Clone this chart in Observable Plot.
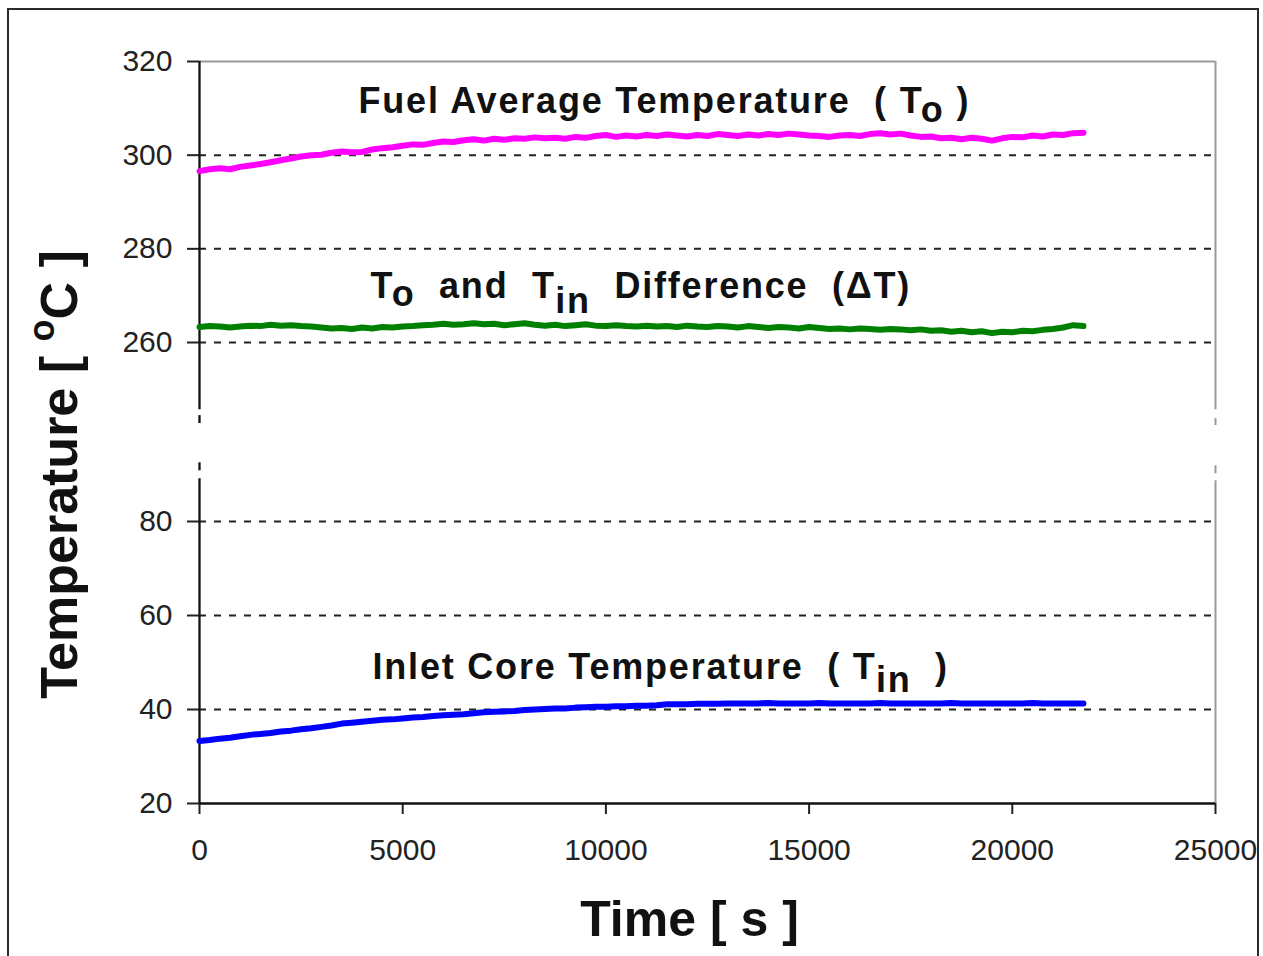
<!DOCTYPE html>
<html><head><meta charset="utf-8">
<script src="https://cdn.jsdelivr.net/npm/d3@7"></script>
<script src="https://cdn.jsdelivr.net/npm/@observablehq/plot@0.6"></script>
<style>
html,body{margin:0;padding:0;background:#fff;overflow:hidden}
#chart{position:absolute;left:0;top:0}
#frame{position:absolute;left:7px;top:8px;width:1252px;height:1100px;border:2px solid #2a2a2a;box-sizing:border-box;pointer-events:none}
svg text, svg tspan{white-space:pre}
g[aria-label$="axis tick"]{stroke-width:2px}
.tick line{stroke-width:2px}
</style></head><body>
<div id="chart"></div><div id="frame"></div>
<script>
// ---- data ----
const times = [0,250,500,750,1000,1250,1500,1750,2000,2250,2500,2750,3000,3250,3500,3750,4000,4250,4500,4750,5000,5250,5500,5750,6000,6250,6500,6750,7000,7250,7500,7750,8000,8250,8500,8750,9000,9250,9500,9750,10000,10250,10500,10750,11000,11250,11500,11750,12000,12250,12500,12750,13000,13250,13500,13750,14000,14250,14500,14750,15000,15250,15500,15750,16000,16250,16500,16750,17000,17250,17500,17750,18000,18250,18500,18750,19000,19250,19500,19750,20000,20250,20500,20750,21000,21250,21500,21750];

const fuelAvg = [296.6,297.0,297.2,297.0,297.5,297.8,298.1,298.5,298.9,299.3,299.7,300.0,300.1,300.5,300.8,300.6,300.7,301.2,301.5,301.7,302.0,302.3,302.2,302.6,302.9,302.8,303.2,303.4,303.1,303.5,303.3,303.6,303.5,303.8,303.6,303.7,303.5,303.9,303.7,304.1,304.3,303.9,304.2,304.0,304.3,304.1,304.4,304.2,304.0,304.3,304.1,304.5,304.3,304.1,304.4,304.2,304.5,304.3,304.6,304.4,304.2,304.1,303.9,304.2,304.3,304.1,304.5,304.7,304.4,304.6,304.2,303.9,304.0,303.6,303.7,303.4,303.7,303.5,303.1,303.6,303.9,303.8,304.2,304.0,304.4,304.3,304.7,304.8];

const deltaT = [263.3,263.5,263.4,263.2,263.4,263.6,263.5,263.8,263.6,263.7,263.5,263.4,263.2,263.0,263.1,262.9,263.2,263.0,263.3,263.2,263.4,263.5,263.7,263.8,264.0,263.8,263.9,264.1,263.9,264.0,263.7,263.9,264.1,263.8,263.6,263.8,263.5,263.7,263.9,263.6,263.5,263.7,263.5,263.4,263.6,263.4,263.5,263.3,263.6,263.4,263.3,263.5,263.4,263.2,263.5,263.3,263.1,263.3,263.2,263.0,263.3,263.1,262.9,263.0,262.8,263.0,262.9,262.7,262.9,262.8,262.6,262.8,262.5,262.6,262.3,262.5,262.2,262.4,262.0,262.3,262.2,262.5,262.4,262.7,262.9,263.2,263.7,263.5];

const inletCore = [33.3,33.5,33.8,34.0,34.3,34.6,34.8,35.0,35.3,35.5,35.8,36.0,36.3,36.6,37.0,37.2,37.4,37.6,37.8,37.9,38.1,38.3,38.4,38.6,38.8,38.9,39.0,39.2,39.4,39.5,39.6,39.7,39.9,40.0,40.1,40.2,40.2,40.4,40.5,40.6,40.6,40.7,40.7,40.8,40.8,40.9,41.1,41.1,41.1,41.2,41.2,41.2,41.3,41.3,41.3,41.3,41.4,41.3,41.3,41.3,41.3,41.4,41.3,41.3,41.3,41.3,41.3,41.4,41.3,41.3,41.3,41.3,41.3,41.3,41.4,41.3,41.3,41.3,41.3,41.3,41.3,41.3,41.4,41.3,41.3,41.3,41.3,41.3];

const xTicks = [0,5000,10000,15000,20000,25000];
const yTicks = [20,40,60,80,260,280,300,320];
const gridValues = [40,60,80,260,280,300];
const yBreakDomain = [20,80,260,320];      // broken axis: 80 -> 260 gap
const leftAxisPieces = [{y1:20,y2:123},{y1:131,y2:139},{y1:178.5,y2:186.5},{y1:192.5,y2:320}];
const rightAxisPieces = [{y1:20,y2:121},{y1:128,y2:136},{y1:176.5,y2:183.5},{y1:192.5,y2:320}];

const seriesNames = ["fuel","delta","inlet"];
const seriesValues = {fuel: fuelAvg, delta: deltaT, inlet: inletCore};
const seriesColors = {fuel: "#ff00ff", delta: "#008000", inlet: "#0000ff"};

const labels = [
  {t: 3912, v: 311.4, parts: [{s: "Fuel Average Temperature  ( T"}, {s: "o", shift: 9}, {s: " )"}]},
  {t: 4208, v: 271.9, parts: [{s: "T"}, {s: "o", shift: 8}, {s: "  and  T"}, {s: "in", shift: 15}, {s: "  Difference  (\u0394T)"}]},
  {t: 4257, v: 49.0, parts: [{s: "Inlet Core Temperature  ( T"}, {s: "in", shift: 13}, {s: "  )"}]}
];
const xTitle = [{parts: [{s: "Time [ s ]"}]}];
const yTitle = [{parts: [{s: "Temperature [ "}, {s: "o", shift: -23, size: 36}, {s: "C ]"}]}];

// ---- build table ----
const rows = [];
for (const name of seriesNames) {
  seriesValues[name].forEach((v, i) => rows.push({series: name, t: times[i], v}));
}
const joined = d => d.parts.map(p => p.s).join("");

const W = 1263, H = 956, mL = 199, mR = 48, mT = 61, mB = 153;
const yRange = [803, 521, 342, 61];

const chart = Plot.plot({
  width: W, height: H,
  marginLeft: mL, marginRight: mR, marginTop: mT, marginBottom: mB,
  style: {fontFamily: "'Liberation Sans', Arial, sans-serif", fontSize: "30px", color: "#222", background: "transparent", overflow: "visible"},
  x: {domain: [0, 25000], ticks: xTicks, tickSize: 11, tickPadding: 24, label: null, tickFormat: d => String(d)},
  y: {type: "linear", domain: yBreakDomain, range: yRange, ticks: yTicks, tickSize: 12, tickPadding: 15, label: null, tickFormat: d => String(d)},
  marks: [
    Plot.ruleY(gridValues, {stroke: "#222", strokeWidth: 2, strokeDasharray: "7,8"}),
    Plot.ruleY([320], {stroke: "#9a9a9a", strokeWidth: 2}),
    Plot.ruleX(rightAxisPieces, {x: 25000, y1: "y1", y2: "y2", stroke: "#9a9a9a", strokeWidth: 2}),
    Plot.ruleX(leftAxisPieces, {x: 0, y1: "y1", y2: "y2", stroke: "#111", strokeWidth: 2.3}),
    Plot.ruleY([20], {stroke: "#111", strokeWidth: 2.6}),
    ...seriesNames.map(name => Plot.line(rows.filter(r => r.series === name), {x: "t", y: "v", stroke: seriesColors[name], strokeWidth: 6, strokeLinejoin: "round"})),
    Plot.text(labels, {x: "t", y: "v", text: joined, textAnchor: "start", fontSize: 36, fontWeight: "bold", fill: "#111"}),
    Plot.text(xTitle, {text: joined, frameAnchor: "bottom", textAnchor: "middle", dx: -18, dy: 132, fontSize: 50, fontWeight: "bold", fill: "#111"}),
    Plot.text(yTitle, {text: joined, frameAnchor: "left", textAnchor: "middle", rotate: -90, dx: -139, dy: 42, fontSize: 52, fontWeight: "bold", fill: "#111"})
  ]
});

// rich text (sub/superscripts) via tspans
const richItems = [...labels, ...xTitle, ...yTitle];
d3.select(chart).selectAll("text").each(function() {
  const item = richItems.find(d => joined(d) === this.textContent);
  if (!item) return;
  const el = d3.select(this);
  el.text(null);
  if (labels.includes(item)) el.attr("letter-spacing", "1.8px");
  let cur = 0;
  for (const p of item.parts) {
    const shift = p.shift || 0;
    const ts = el.append("tspan").text(p.s);
    if (shift !== cur) ts.attr("dy", (shift - cur) + "px");
    if (p.size) ts.attr("font-size", p.size + "px");
    cur = shift;
  }
});

document.getElementById("chart").appendChild(chart);
</script></body></html>
